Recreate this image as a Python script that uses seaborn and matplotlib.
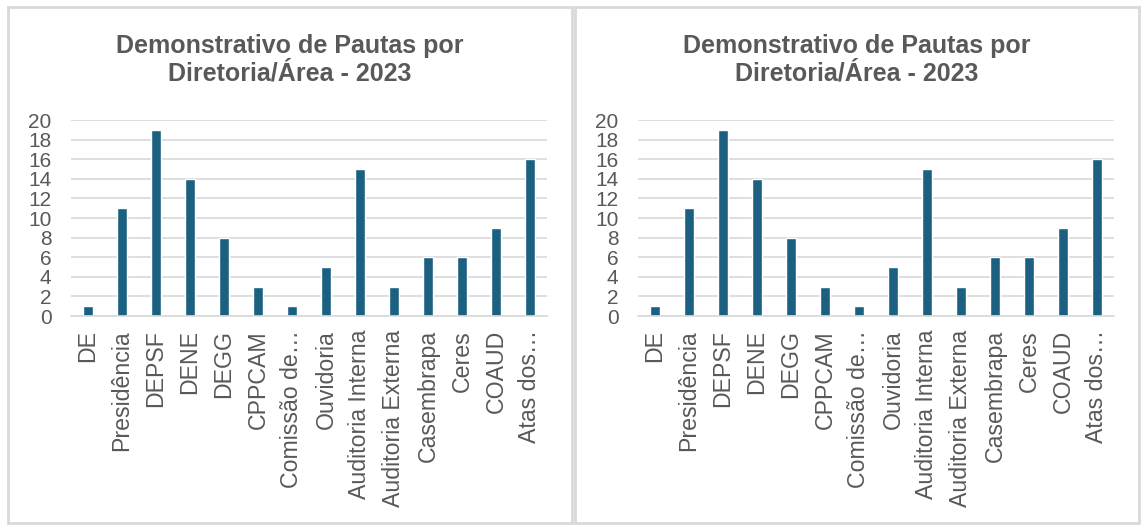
import pandas as pd
import matplotlib
matplotlib.use("Agg")
import matplotlib.pyplot as plt
import seaborn as sns
from matplotlib.patches import Rectangle

# data (both panels show the same series)
areas = ['DE', 'Presidência', 'DEPSF', 'DENE', 'DEGG', 'CPPCAM', 'Comissão de…',
         'Ouvidoria', 'Auditoria Interna', 'Auditoria Externa', 'Casembrapa',
         'Ceres', 'COAUD', 'Atas dos…']
pautas = [1, 11, 19, 14, 8, 3, 1, 5, 15, 3, 6, 6, 9, 16]
title = 'Demonstrativo de Pautas por\nDiretoria/Área - 2023'

df = pd.DataFrame({'Area': areas, 'Pautas': pautas})

sns.set_style('white')
plt.rcParams['font.family'] = ['Liberation Sans', 'DejaVu Sans']

W, H = 1145, 526
fig = plt.figure(figsize=(W / 100, H / 100), dpi=100)
txt = '#595959'
bar_color = '#1c6081'
grid_color = '#d9d9d9'

for off in [0, 567]:
    # panel border
    fig.patches.append(Rectangle(((8 + off) / W, 3 / H), 564 / W, 516 / H,
                                 transform=fig.transFigure, fill=False,
                                 edgecolor='#d9d9d9', linewidth=2))
    ax = fig.add_axes([(71 + off) / W, (526 - 316) / H, 476 / W, 196 / H])
    sns.barplot(data=df, x='Area', y='Pautas', color=bar_color, width=0.3,
                saturation=1, ax=ax)
    ax.set_ylim(0, 20)
    ax.set_yticks(range(0, 21, 2))
    ax.set_xlim(-0.5, len(areas) - 0.5)
    ax.grid(axis='y', color=grid_color, linewidth=1.2)
    ax.set_axisbelow(True)
    sns.despine(ax=ax, left=True, top=True, right=True)
    ax.spines['bottom'].set_color(grid_color)
    ax.spines['bottom'].set_linewidth(1.2)
    ax.tick_params(length=0, colors=txt)
    ax.tick_params(axis='y', labelsize=15, pad=14)
    ax.tick_params(axis='x', labelsize=16.7, rotation=90, pad=10)
    ax.set_xlabel('')
    ax.set_ylabel('')
    fig.text((290 + off) / W, 1 - 60 / H, title, ha='center', va='center',
             fontsize=18, fontweight='bold', color=txt, linespacing=1.2)

fig.savefig('out.png', dpi=100)
